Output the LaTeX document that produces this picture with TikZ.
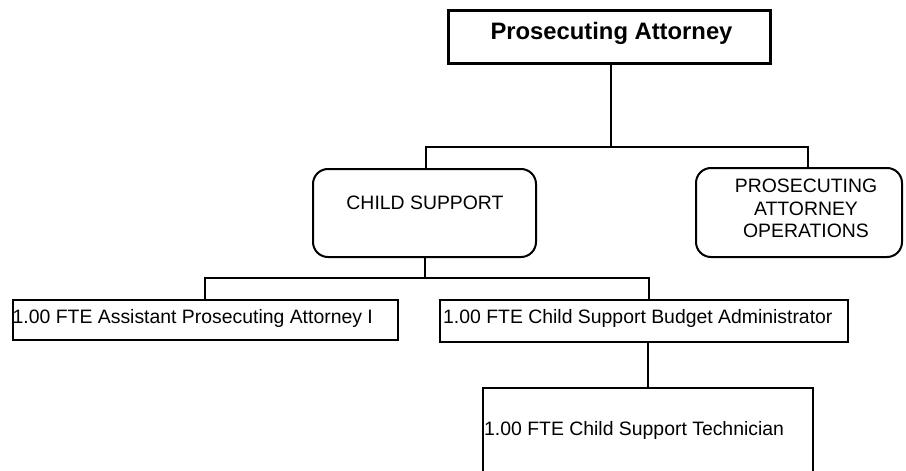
\documentclass[tikz,border=0pt]{standalone}
\usepackage{fontspec}
\setmainfont{Liberation Sans}
\begin{document}
\begin{tikzpicture}[x=1pt,y=-1pt,
  box/.style={draw=black,line width=2pt,rectangle,inner sep=0pt},
  topbox/.style={box,line width=3pt},
  roundbox/.style={box,rounded corners=15pt},
  lbl/.style={inner sep=0pt,font=\fontsize{19.4}{22.5}\selectfont},
  toplbl/.style={inner sep=0pt,font=\fontsize{23.8}{28}\selectfont\bfseries},
  conn/.style={draw=black,line width=1.2pt}]
\useasboundingbox (0,0) rectangle (906,471);
\clip (0,0) rectangle (906,471);
% boxes
\node[topbox,minimum width=322pt,minimum height=53pt] (top) at (609,36.5) {};
\node[toplbl,anchor=base] (topt) at (611.5,39) {Prosecuting Attorney};
\node[roundbox,minimum width=223pt,minimum height=88pt] (child) at (424.5,213) {};
\node[lbl,anchor=base] (childt) at (425,209) {CHILD SUPPORT};
\node[roundbox,minimum width=206pt,minimum height=89pt] (ops) at (799,212.5) {};
\node[lbl,align=center] (opst) at (806,208.5) {PROSECUTING\\ATTORNEY\\OPERATIONS};
\node[box,minimum width=385pt,minimum height=40pt] (apa) at (205.5,320) {};
\node[lbl,anchor=base west] (apat) at (12.5,323) {1.00 FTE Assistant Prosecuting Attorney I};
\node[box,minimum width=408pt,minimum height=42pt] (bud) at (644,321) {};
\node[lbl,anchor=base west] (budt) at (443,323) {1.00 FTE Child Support Budget Administrator};
\node[box,minimum width=330pt,minimum height=92pt] (tech) at (648,434) {};
\node[lbl,anchor=base west] (techt) at (484,435) {1.00 FTE Child Support Technician};
% junctions
\coordinate (j1) at (611,147);
\coordinate (b1) at (426,147);
\coordinate (b2) at (808,147);
\coordinate (j2) at (425,278);
\coordinate (c1) at (205,278);
\coordinate (c2) at (649,278);
\coordinate (t1) at (648,365);
% connectors
\draw[conn] (j1 |- top.south) -- (j1);
\draw[conn] (b1 |- child.north) -- (b1) -- (b2) -- (b2 |- ops.north);
\draw[conn] (j2 |- child.south) -- (j2);
\draw[conn] (c1 |- apa.north) -- (c1) -- (c2) -- (c2 |- bud.north);
\draw[conn] (t1 |- bud.south) -- (t1 |- tech.north);
\end{tikzpicture}
\end{document}
